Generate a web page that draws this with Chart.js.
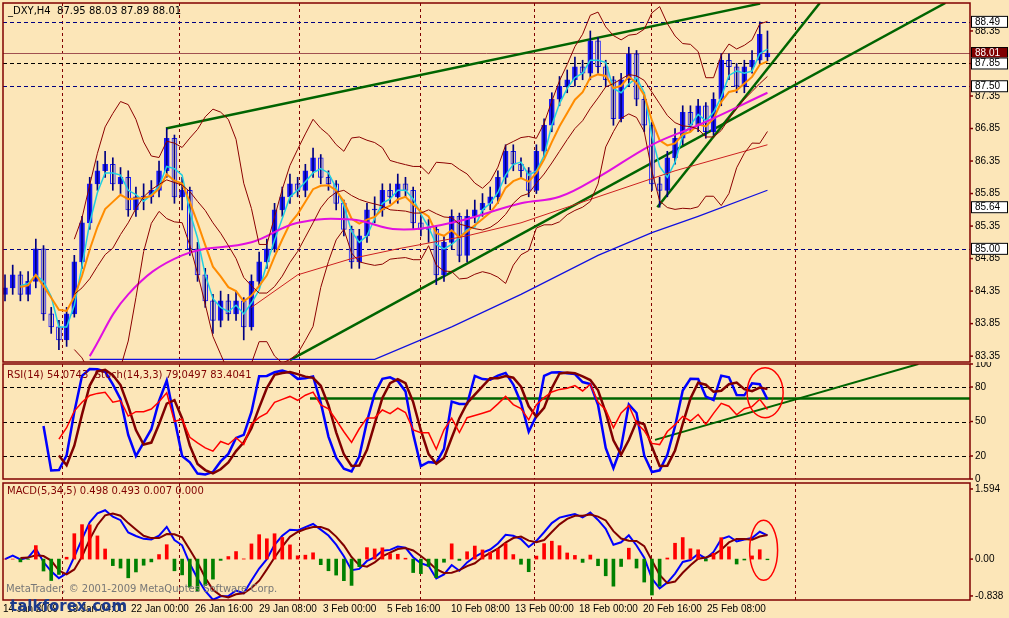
<!DOCTYPE html>
<html><head><meta charset="utf-8">
<script src="https://cdn.jsdelivr.net/npm/chart.js@4.4.1/dist/chart.umd.min.js"></script>
<style>
html,body{margin:0;padding:0;background:#fce6b8;width:1009px;height:618px;overflow:hidden;font-family:"DejaVu Sans",sans-serif}
canvas{position:absolute;left:0}
</style></head><body>
<canvas id="m" style="top:0px" width="1009" height="365"></canvas>
<canvas id="r" style="top:362px" width="1009" height="120"></canvas>
<canvas id="d" style="top:481px" width="1009" height="137"></canvas>
<script>
const closes=[84.4,84.6,84.3,84.5,85.0,84.0,83.8,83.6,84.0,84.8,85.4,86.0,86.2,86.3,86.0,86.1,85.6,85.8,85.8,85.9,86.2,86.7,85.8,85.9,85.0,84.6,84.2,83.9,84.2,84.0,84.2,83.8,84.5,84.8,85.0,85.6,85.8,86.0,85.9,86.2,86.4,86.1,86.0,85.7,85.3,84.8,85.2,85.6,85.6,85.9,85.8,86.0,85.9,85.4,85.3,85.3,84.6,85.1,85.5,84.9,85.5,85.6,85.7,85.8,86.1,86.5,86.3,86.2,85.9,86.5,86.9,87.3,87.5,87.6,87.8,87.7,88.2,87.8,87.6,87.0,87.6,88.0,87.3,86.9,86.0,85.9,86.4,86.7,87.1,86.9,87.2,86.8,87.3,87.9,87.8,87.5,87.8,87.9,88.3,88.01];
const opens=[84.3,84.4,84.6,84.3,84.5,85.0,84.0,83.8,83.6,84.0,84.8,85.4,86.0,86.2,86.3,86.0,86.1,85.6,85.8,85.8,85.9,86.2,86.7,85.8,85.9,85.0,84.6,84.2,83.9,84.2,84.0,84.2,83.8,84.5,84.8,85.0,85.6,85.8,86.0,85.9,86.2,86.4,86.1,86.0,85.7,85.3,84.8,85.2,85.6,85.6,85.9,85.8,86.0,85.9,85.4,85.3,85.3,84.6,85.1,85.5,84.9,85.5,85.6,85.7,85.8,86.1,86.5,86.3,86.2,85.9,86.5,86.9,87.3,87.5,87.6,87.8,87.7,88.2,87.8,87.6,87.0,87.6,88.0,87.3,86.9,86.0,85.9,86.4,86.7,87.1,86.9,87.2,86.8,87.3,87.9,87.8,87.5,87.8,87.9,87.95];
const highs=[84.6,84.75,84.65,84.65,85.15,85.05,84.1,83.9,84.1,84.9,85.5,86.1,86.35,86.5,86.4,86.25,86.2,85.95,86.0,86.05,86.35,86.85,86.75,86.1,85.95,85.1,84.7,84.3,84.35,84.3,84.35,84.25,84.6,84.95,85.15,85.7,85.95,86.15,86.1,86.3,86.55,86.45,86.2,86.05,85.75,85.35,85.3,85.7,85.8,86.0,86.0,86.15,86.1,85.95,85.5,85.45,85.35,85.2,85.6,85.55,85.6,85.75,85.85,85.95,86.2,86.6,86.6,86.4,86.25,86.6,87.0,87.4,87.65,87.75,87.95,87.9,88.35,88.25,87.9,87.65,87.7,88.1,88.05,87.4,86.95,86.1,86.5,86.85,87.2,87.2,87.3,87.25,87.4,88.0,88.0,87.85,87.9,88.05,88.49,88.35];
const lows=[84.2,84.3,84.2,84.2,84.4,83.9,83.7,83.45,83.5,83.95,84.7,85.3,85.9,86.1,85.9,85.85,85.5,85.5,85.6,85.7,85.8,86.1,85.7,85.6,84.9,84.5,84.1,83.7,83.8,83.9,83.9,83.6,83.75,84.4,84.7,84.95,85.5,85.7,85.8,85.8,86.1,86.0,85.9,85.6,85.2,84.7,84.7,85.1,85.4,85.5,85.7,85.7,85.8,85.3,85.2,85.1,84.45,84.5,85.0,84.8,84.8,85.4,85.5,85.6,85.7,86.0,86.2,86.1,85.8,85.85,86.4,86.8,87.2,87.4,87.5,87.6,87.6,87.7,87.5,86.9,86.95,87.5,87.2,86.8,85.9,85.64,85.8,86.3,86.6,86.8,86.8,86.7,86.75,87.2,87.6,87.4,87.4,87.7,87.85,87.89];
const magentaMA=[[11,83.35],[16,84.3],[23,84.9],[32,85.1],[38,85.4],[45,85.45],[51,85.3],[58,85.4],[67,85.7],[72,85.8],[77,86.1],[84,86.6],[90,86.9],[99,87.4]];
const blueMA=[[11,83.3],[30,83.3],[48,83.3],[58,83.8],[67,84.3],[77,84.9],[84,85.25],[90,85.5],[99,85.9]];
const redMA=[[32,84.1],[38,84.6],[45,84.85],[51,85.0],[60,85.2],[67,85.4],[77,85.8],[87,86.2],[99,86.6]];
const priceTicks=[88.35,87.85,87.35,86.85,86.35,85.85,85.35,84.85,84.35,83.85,83.35];
const levels=[88.49,87.50,85.00];
const boxed=[{v:88.49,bg:'#fff',fg:'#000'},{v:88.01,bg:'#800000',fg:'#fff'},{v:87.85,bg:'#fff',fg:'#000'},{v:87.50,bg:'#fff',fg:'#000'},{v:85.64,bg:'#fff',fg:'#000'},{v:85.00,bg:'#fff',fg:'#000'}];
const trend1=[[20.9,86.85],[98.05,88.77]], trend2=[[37.0,83.29],[122.1,88.78]], trend3=[[84.7,85.64],[105.8,88.78]];
const rsiTicks=[100,80,50,20,0];
const rsiTrendH=[[39.6,70],[125.3,70]], rsiTrendR=[[84.4,34],[118.6,100]];
const macdTicks=[1.594,0.00,-0.838];
const dateLabels=['14 Jan 2009','19 Jan 04:00','22 Jan 00:00','26 Jan 16:00','29 Jan 08:00','3 Feb 00:00','5 Feb 16:00','10 Feb 08:00','13 Feb 00:00','18 Feb 00:00','20 Feb 16:00','25 Feb 08:00'];
const sepIdx=[7.4,22.6,38.2,53.9,68.7,83.9,102.6];

const N=closes.length, XMIN=-0.26, XMAX=125.3;
const pts=a=>a.map(p=>({x:p[0],y:p[1]}));
function sma(a,n){return a.map((_,i)=>{if(i<n-1)return null;let s=0;for(let j=i-n+1;j<=i;j++)s+=a[j];return s/n;});}
function ema(a,n){const k=2/(n+1);let e=a[0];return a.map(v=>e=e+k*(v-e));}
function sd(a,n){return a.map((_,i)=>{if(i<n-1)return null;let m=0;for(let j=i-n+1;j<=i;j++)m+=a[j];m/=n;let s=0;for(let j=i-n+1;j<=i;j++)s+=(a[j]-m)**2;return Math.sqrt(s/n);});}
const toXY=a=>a.map((v,i)=>({x:i,y:v}));
const bbM=sma(closes,10), bbS=sd(closes,10);
const bbU=bbM.map((m,i)=>m==null?null:m+2*bbS[i]), bbL=bbM.map((m,i)=>m==null?null:m-2*bbS[i]);
const rsi=[];{let ag=0,al=0,n=7;for(let i=0;i<N;i++){if(i==0){rsi.push(null);continue;}const ch=closes[i]-closes[i-1];const g=Math.max(ch,0),l=Math.max(-ch,0);if(i<=n){ag+=g/n;al+=l/n;rsi.push(i<n?null:100-100/(1+ag/(al||1e-9)));}else{ag=(ag*(n-1)+g)/n;al=(al*(n-1)+l)/n;rsi.push(100-100/(1+ag/(al||1e-9)));}}}
const kraw=closes.map((c,i)=>{if(i<4)return null;const h=Math.max(...highs.slice(i-4,i+1)),l=Math.min(...lows.slice(i-4,i+1));return 100*(c-l)/(h-l);});
const kS=kraw.map((v,i)=>i<5?null:(kraw[i]+kraw[i-1])/2);
const dS=kS.map((v,i)=>(i<7)?null:(kS[i]+kS[i-1]+kS[i-2])/3);
const e3=ema(closes,3), e17=ema(closes,17);
const macd=e3.map((v,i)=>v-e17[i]);
const sig=macd.map((v,i)=>i<2?null:(macd[i]+macd[i-1]+macd[i-2])/3);
const hist=macd.map((v,i)=>sig[i]==null?0:(v-sig[i])*2);

const FONT='10px "DejaVu Sans"', SFONT='10px "Liberation Sans"';
function frame(ch,ticks,fmt){const {ctx,chartArea:a,scales:{y}}=ch;ctx.save();ctx.strokeStyle='#800000';ctx.lineWidth=1.5;ctx.strokeRect(a.left,a.top,a.right-a.left,a.bottom-a.top);
ctx.font=SFONT;ctx.fillStyle='#000';ctx.textBaseline='middle';ticks.forEach(t=>{const py=y.getPixelForValue(t);ctx.fillText(fmt(t),a.right+5,py);ctx.beginPath();ctx.moveTo(a.right,py);ctx.lineTo(a.right+3,py);ctx.stroke();});ctx.restore();}
function vgrid(ch){const {ctx,chartArea:a,scales:{x}}=ch;ctx.save();ctx.strokeStyle='#800000';ctx.lineWidth=1;ctx.setLineDash([3,3]);sepIdx.forEach(v=>{const px=Math.round(x.getPixelForValue(v))+0.5;ctx.beginPath();ctx.moveTo(px,a.top);ctx.lineTo(px,a.bottom);ctx.stroke();});ctx.restore();}
function hline(ch,v,color,dash){const {ctx,chartArea:a,scales:{y}}=ch;const py=Math.round(y.getPixelForValue(v))+0.5;ctx.save();ctx.strokeStyle=color;ctx.lineWidth=1;ctx.setLineDash(dash);ctx.beginPath();ctx.moveTo(a.left,py);ctx.lineTo(a.right,py);ctx.stroke();ctx.restore();}
function baseOpts(ymin,ymax,pad){return {responsive:false,animation:false,devicePixelRatio:1,layout:{padding:pad},plugins:{legend:{display:false},tooltip:{enabled:false}},
scales:{x:{type:'linear',min:XMIN,max:XMAX,display:false,offset:false},y:{min:ymin,max:ymax,display:false}}};}
const line=(data,color,w,extra)=>Object.assign({type:'line',data,borderColor:color,borderWidth:w,pointRadius:0,tension:0,spanGaps:false},extra||{});

new Chart(document.getElementById('m'),{type:'bar',data:{datasets:[
 line(toXY(bbU),'#8b0000',1),line(toXY(bbM),'#8b0000',1),line(toXY(bbL),'#8b0000',1),
 line(pts(blueMA),'#1010e0',1.2),line(pts(redMA),'#cc2020',1),line(pts(magentaMA),'#e010e0',2,{tension:0.4}),
 line(toXY(ema(closes,6)).slice(2),'#ff8c00',2),line(toXY(sma(closes,3)),'#20d0e0',1.5),
 {type:'bar',data:closes.map((c,i)=>({x:i,y:[lows[i],highs[i]]})),backgroundColor:'#000080',barThickness:1,grouped:false},
 {type:'bar',data:closes.map((c,i)=>({x:i,y:[opens[i],c===opens[i]?c+0.01:c]})),backgroundColor:closes.map((c,i)=>c>=opens[i]?'#1a1aff':'#fce6b8'),borderColor:'#1a1aff',borderWidth:1,borderSkipped:false,barThickness:5,grouped:false},
 line(pts(trend1),'#006400',2.5),line(pts(trend2),'#006400',2.5),line(pts(trend3),'#006400',2.5)
]},options:baseOpts(83.26,88.78,{left:3,right:39,top:3,bottom:3}),
plugins:[{id:'bg',beforeDatasetsDraw(ch){vgrid(ch);levels.forEach(v=>hline(ch,v,'#000080',[4,3]));hline(ch,87.85,'#000',[4,3]);hline(ch,88.01,'#a05050',[]);},
afterDraw(ch){frame(ch,priceTicks,t=>t.toFixed(2));const {ctx,chartArea:a,scales:{y}}=ch;ctx.save();ctx.font=SFONT;ctx.textBaseline='middle';
boxed.forEach(b=>{const py=y.getPixelForValue(b.v);ctx.fillStyle=b.bg;ctx.fillRect(a.right+1,py-6,37,12);ctx.strokeStyle='#000';ctx.lineWidth=1;ctx.strokeRect(a.right+1.5,py-5.5,36,11);ctx.fillStyle=b.fg;ctx.fillText(b.v.toFixed(2),a.right+5,py);});
ctx.font=FONT;ctx.fillStyle='#000';ctx.textBaseline='alphabetic';ctx.fillText('_DXY,H4  87.95 88.03 87.89 88.01',8,14);ctx.restore();}}]});

new Chart(document.getElementById('r'),{type:'line',data:{datasets:[
 line(toXY(rsi),'#ff0000',1.5),line(toXY(dS),'#800000',2.5),line(toXY(kS),'#0000ff',2.5),
 line(pts(rsiTrendH),'#006400',2.5),line(pts(rsiTrendR),'#006400',2)
]},options:baseOpts(0,100,{left:3,right:39,top:2,bottom:3}),
plugins:[{id:'bg',beforeDatasetsDraw(ch){vgrid(ch);[80,50,20].forEach(v=>hline(ch,v,'#000',[4,3]));},
afterDraw(ch){frame(ch,rsiTicks,t=>String(t));const {ctx,scales:{x,y}}=ch;ctx.save();ctx.strokeStyle='#ff0000';ctx.lineWidth=1.5;ctx.beginPath();ctx.ellipse(x.getPixelForValue(98.7),y.getPixelForValue(75),18,25,0,0,Math.PI*2);ctx.stroke();
ctx.font=FONT;ctx.fillStyle='#800000';ctx.fillText('RSI(14) 54.0743  Stoch(14,3,3) 79.0497 83.4041',7,16);ctx.restore();}}]});

new Chart(document.getElementById('d'),{type:'bar',data:{datasets:[
 {type:'bar',data:toXY(hist),backgroundColor:hist.map(v=>v>=0?'#ff0000':'#008000'),barThickness:3,grouped:false},
 line(toXY(sig),'#800000',2),line(toXY(macd),'#0000ff',2)
]},options:baseOpts(-0.93,1.73,{left:3,right:39,top:2,bottom:18}),
plugins:[{id:'bg',beforeDatasetsDraw(ch){vgrid(ch);},
afterDraw(ch){frame(ch,macdTicks,t=>t===0?'0.00':String(t));const {ctx,chartArea:a,scales:{x,y}}=ch;ctx.save();ctx.strokeStyle='#ff0000';ctx.lineWidth=1.5;ctx.beginPath();ctx.ellipse(x.getPixelForValue(98.5),y.getPixelForValue(0.2),14,30,0,0,Math.PI*2);ctx.stroke();
ctx.font=FONT;ctx.fillStyle='#800000';ctx.fillText('MACD(5,34,5) 0.498 0.493 0.007 0.000',7,13);
ctx.fillStyle='#777';ctx.fillText('MetaTrader, © 2001-2009 MetaQuotes Software Corp.',6,a.bottom-8);
ctx.font=SFONT;ctx.fillStyle='#000';dateLabels.forEach((d,k)=>{ctx.fillText(d,3+64*k,a.bottom+12);});
ctx.font='bold 15px "DejaVu Sans"';ctx.fillStyle='#1b3a8c';ctx.fillText('talkforex.com',10,a.bottom+11);ctx.restore();}}]});
</script></body></html>
